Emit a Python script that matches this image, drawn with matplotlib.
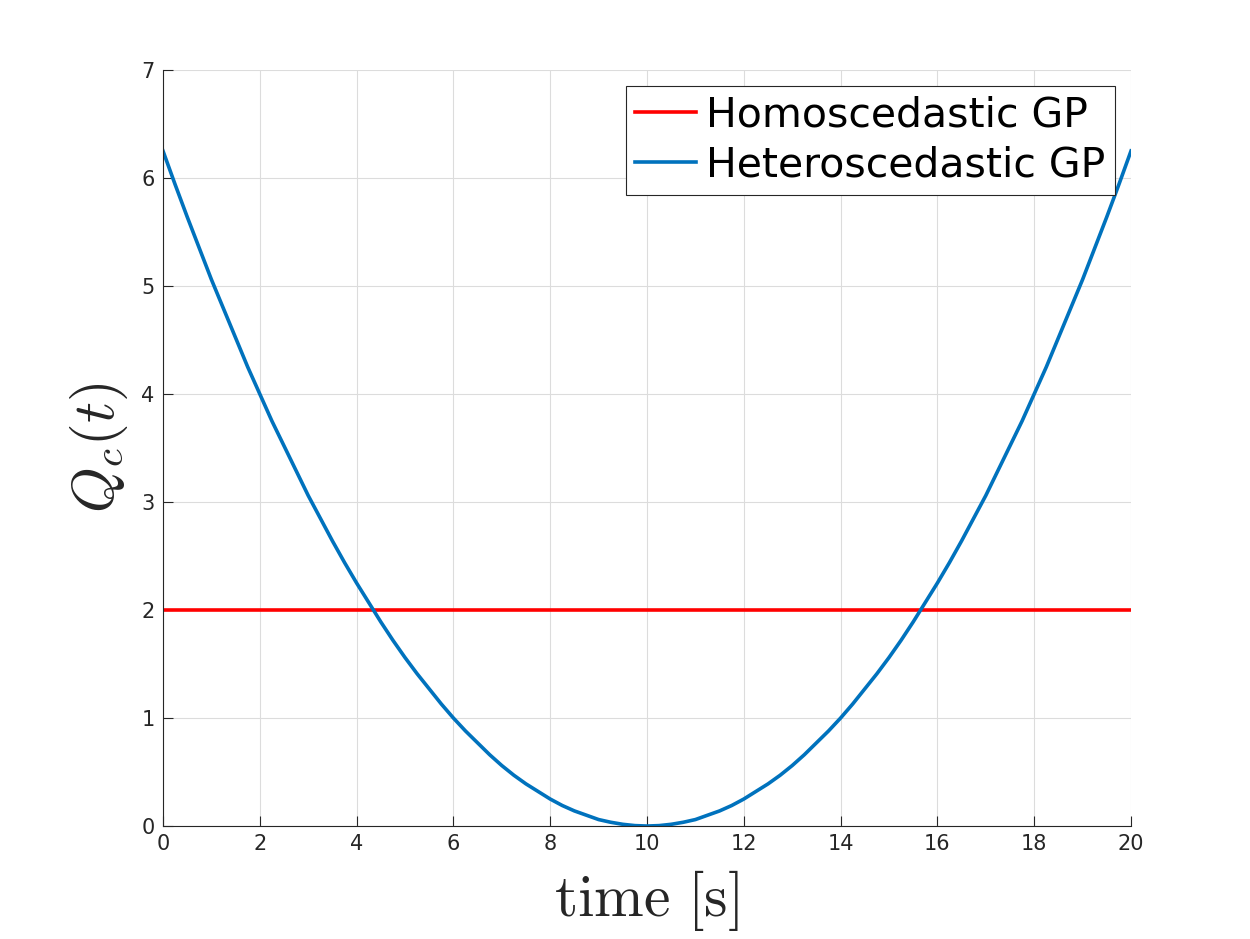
import matplotlib
matplotlib.use("Agg")
import matplotlib.pyplot as plt

time_s = [i * 0.25 for i in range(81)]
hetero_left = [6.25, 5.94, 5.64, 5.35, 5.06, 4.79, 4.52, 4.25, 4.00, 3.75, 3.52, 3.29, 3.06, 2.85,
               2.64, 2.44, 2.25, 2.07, 1.89, 1.72, 1.56, 1.41, 1.27, 1.13, 1.00, 0.88, 0.77, 0.66,
               0.56, 0.47, 0.39, 0.32, 0.25, 0.19, 0.14, 0.10, 0.06, 0.035, 0.016, 0.004, 0.0]
hetero_right = [0.004, 0.016, 0.035, 0.06, 0.10, 0.14, 0.19, 0.25, 0.32, 0.39, 0.47, 0.56, 0.66,
                0.77, 0.88, 1.00, 1.13, 1.27, 1.41, 1.56, 1.72, 1.89, 2.07, 2.25, 2.44, 2.64, 2.85,
                3.06, 3.29, 3.52, 3.75, 4.00, 4.25, 4.52, 4.79, 5.06, 5.35, 5.64, 5.94, 6.25]
hetero_q = hetero_left + hetero_right
homo_t = [0, 20]
homo_q = [2.0, 2.0]
x_ticks = [0, 2, 4, 6, 8, 10, 12, 14, 16, 18, 20]
y_ticks = [0, 1, 2, 3, 4, 5, 6, 7]

plt.rcParams['mathtext.fontset'] = 'cm'

fig = plt.figure(figsize=(12.5, 9.39), dpi=100)
ax = fig.add_axes([0.1304, 0.1203, 0.7744, 0.8052])

ax.plot(homo_t, homo_q, color=(1, 0, 0), lw=2.6, label='Homoscedastic GP')
ax.plot(time_s, hetero_q, color=(0, 0.447, 0.741), lw=2.6, label='Heteroscedastic GP')

ax.set_xlim(0, 20)
ax.set_ylim(0, 7)
ax.set_xticks(x_ticks)
ax.set_yticks(y_ticks)
ax.grid(True, color='#dcdcdc', lw=0.8)
ax.set_axisbelow(True)
for s in ['top', 'right']:
    ax.spines[s].set_visible(False)
for s in ['left', 'bottom']:
    ax.spines[s].set_color('#262626')
    ax.spines[s].set_linewidth(0.8)
ax.tick_params(direction='in', length=7, width=0.8, colors='#262626', labelsize=15, pad=6)

ax.set_xlabel(r'$\mathrm{time}\ [\mathrm{s}]$', fontsize=43, color='#262626', labelpad=10)
ax.set_ylabel(r'$Q_c(t)$', fontsize=42, color='#262626', labelpad=8)

leg = ax.legend(loc='upper right', fontsize=29.5, frameon=True, fancybox=False, framealpha=1,
                edgecolor='#262626', handlelength=1.5, handletextpad=0.25, borderpad=0.22,
                labelspacing=0.25, borderaxespad=0.4)
leg.get_frame().set_linewidth(0.8)

fig.savefig('out.png', dpi=100)
